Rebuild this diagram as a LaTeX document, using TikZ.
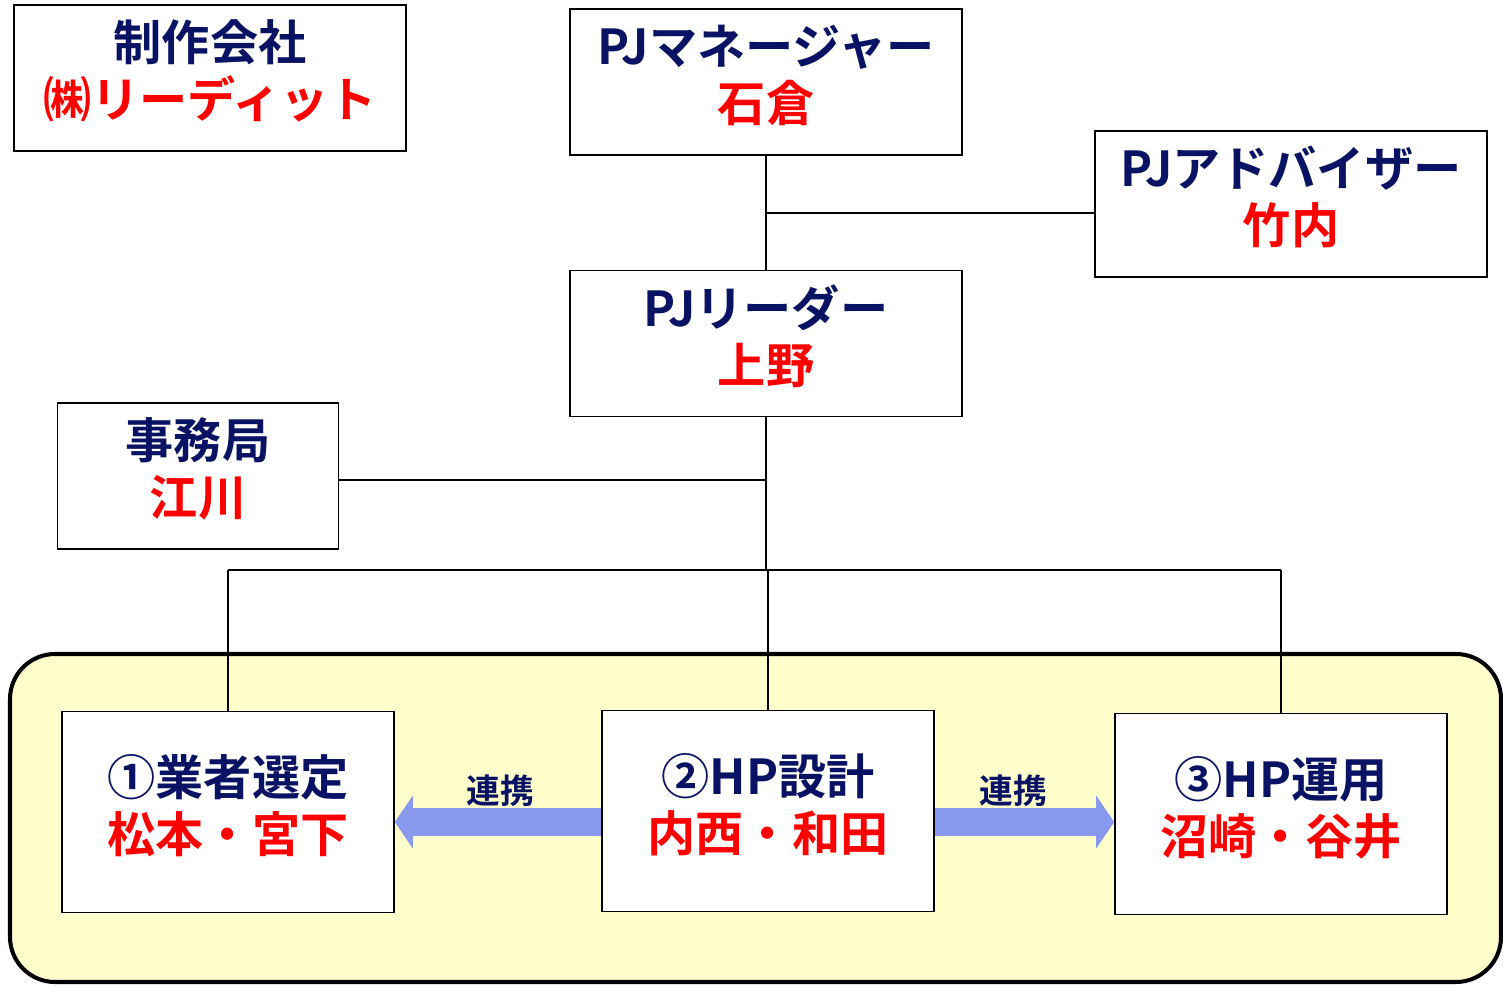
\documentclass[tikz,border=0pt]{standalone}
\usepackage{fontspec}
\setmainfont{Noto Sans CJK JP}[BoldFont={* Bold}]
\usepackage{tikz}
\usetikzlibrary{arrows.meta,positioning}

\definecolor{navy}{RGB}{10,18,100}
\definecolor{pjred}{RGB}{255,0,0}
\definecolor{linkblue}{RGB}{136,153,238}
\definecolor{teamyellow}{RGB}{255,255,204}

\newcommand{\role}[2]{\textcolor{navy}{#1}\\\textcolor{pjred}{#2}}

\begin{document}
\begin{tikzpicture}[x=0.01cm,y=-0.01cm,thin,font=\bfseries\fontsize{13.7}{16.2}\selectfont]
  \tikzstyle{every node}=[align=center]
  \tikzstyle{box}=[draw,fill=white,inner sep=0pt,text depth=0.18cm,minimum width=3.92cm,minimum height=1.46cm]
  \tikzstyle{team}=[box,minimum width=3.32cm,minimum height=2.01cm]
  \tikzstyle{link}=[draw=linkblue,line width=0.27cm,-{Triangle[length=0.18cm,width=0.52cm]}]
  \tikzstyle{linklabel}=[text=navy,inner sep=0pt,above=0.02cm,font=\bfseries\fontsize{9.6}{11}\selectfont]

  \useasboundingbox (0,0) rectangle (1503,985);
  % team area
  \draw[line width=1.15pt,fill=teamyellow,rounded corners=0.45cm] (10,654) rectangle (1501,982);

  \node[box]         (comp) at (210,78)       {\role{制作会社}{㈱リーディット}};
  \node[box]         (mgr)  at (766,82)       {\role{PJマネージャー}{石倉}};
  \node[box]         (ldr)  [below=1.14cm of mgr] {\role{PJリーダー}{上野}};
  \node[box]         (adv)  at (1291,204)     {\role{PJアドバイザー}{竹内}};
  \node[box,minimum width=2.81cm] (sec) at (198,476) {\role{事務局}{江川}};

  \node[team]        (t1)   at (228,812)      {\role{①業者選定}{松本・宮下}};
  \node[team]        (t2)   at (768,811)      {\role{②HP設計}{内西・和田}};
  \node[team]        (t3)   at (1281,814)     {\role{③HP運用}{沼崎・谷井}};

  \coordinate (advj) at (766,213);
  \coordinate (secj) at (766,480);
  \coordinate (bus)  at (766,570);
  \coordinate (arr)  at (0,822);

  \draw (mgr) -- (ldr);
  \draw (advj) -- (advj -| adv.west);
  \draw (ldr) -- (bus);
  \draw (secj) -- (secj -| sec.east);
  \draw (t1.north |- bus) -- (t3.north |- bus);
  \foreach \t in {t1,t2,t3}
    \draw (\t.north |- bus) -- (\t.north);

  \draw[link] (t2.west |- arr) -- (t1.east |- arr) node[pos=0.49,linklabel] {連携};
  \draw[link] (t2.east |- arr) -- (t3.west |- arr) node[pos=0.44,linklabel] {連携};
\end{tikzpicture}
\end{document}
